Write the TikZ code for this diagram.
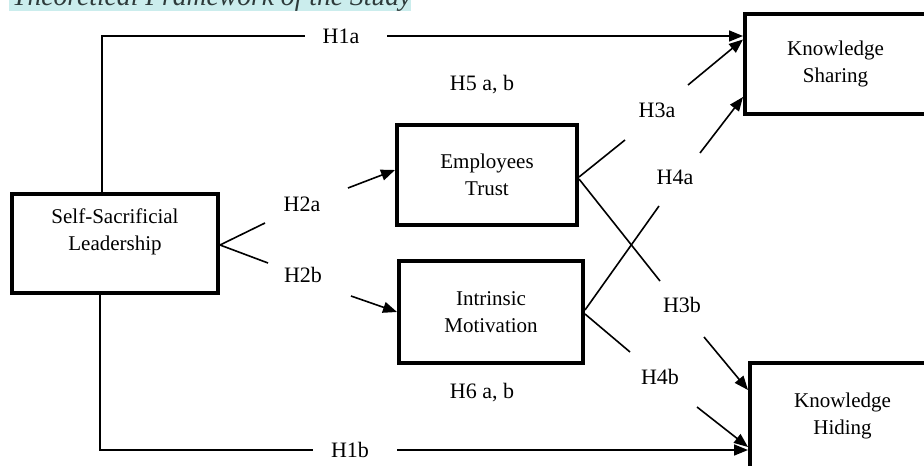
\documentclass[tikz,border=0pt]{standalone}
\usepackage{fontspec}
\setmainfont{Liberation Serif}
\usetikzlibrary{arrows.meta,calc}
\definecolor{hl}{HTML}{CBEDED}
\definecolor{titlec}{HTML}{2E3A3A}
\begin{document}
\begin{tikzpicture}[x=1pt,y=-1pt,
  box/.style={draw,line width=4pt,inner sep=0pt,align=center,font=\fontsize{21}{27}\selectfont},
  lab/.style={inner sep=0pt,font=\fontsize{22}{26}\selectfont},
  conn/.style={line width=1.6pt},
  arr/.style={conn,-{Triangle[length=14pt,width=11pt]}}]
\useasboundingbox (0,0) rectangle (924,466);
% title strip
\fill[hl] (9,-10) rectangle (411,11);
\node[anchor=base west,inner sep=0pt,font=\fontsize{27.6}{30}\selectfont\itshape,text=titlec] (title) at (12,5.5) {Theoretical Framework of the Study};
% boxes
\node[box,minimum width=206pt,minimum height=99pt] (SSL) at (115,243.5) {Self-Sacrificial\\Leadership\\\mbox{}};
\node[box,minimum width=180pt,minimum height=100pt] (ET) at (487,175) {Employees\\Trust};
\node[box,minimum width=184pt,minimum height=102pt] (IM) at (491,312) {Intrinsic\\Motivation};
\node[box,minimum width=181pt,minimum height=100pt] (KS) at (835.5,63.5) {Knowledge\\Sharing};
\node[box,minimum width=185pt,minimum height=105pt] (KH) at (842.5,415.5) {Knowledge\\Hiding};
% labels
\node[lab] (H1a) at (341,36) {H1a};
\node[lab] (H1b) at (350,450) {H1b};
\node[lab] (H2a) at (302,204) {H2a};
\node[lab] (H2b) at (303,275) {H2b};
\node[lab] (H3a) at (657,110) {H3a};
\node[lab] (H3b) at (682,305) {H3b};
\node[lab] (H4a) at (675,177) {H4a};
\node[lab] (H4b) at (660,377) {H4b};
\node[lab] (H5) at (482,85) {H5 a, b};
\node[lab] (H6) at (482,393) {H6 a, b};
% gap end coordinates
\coordinate (a1) at (305,36); \coordinate (a2) at (387,36);
\coordinate (b1) at (313,450); \coordinate (b2) at (397,450);
\coordinate (c1) at (265,223); \coordinate (c2) at (348,188);
\coordinate (d1) at (268,263); \coordinate (d2) at (351,296);
\coordinate (e1) at (625,140); \coordinate (e2) at (688,85);
\coordinate (f1) at (660,281); \coordinate (f2) at (704,337);
\coordinate (g1) at (659,206); \coordinate (g2) at (700,153);
\coordinate (k1) at (630,352); \coordinate (k2) at (697,407);
% connectors
\draw[conn] ([xshift=-13pt]SSL.north) |- (a1);
\draw[arr] (a2) -- (KS.west |- a2);
\draw[conn] ([xshift=-15pt]SSL.south) |- (b1);
\draw[arr] (b2) -- (KH.west |- b2);
\draw[conn] ([yshift=-1.5pt]SSL.east) -- (c1);
\draw[arr] (c2) -- ($(ET.west)+(0,-5)$);
\draw[conn] ([yshift=-1.5pt]SSL.east) -- (d1);
\draw[arr] (d2) -- (IM.west);
\draw[conn] ($(ET.east)+(0,2)$) -- (e1);
\draw[arr] (e2) -- ($(KS.west)+(0,-24)$);
\draw[conn] ($(ET.east)+(0,4)$) -- (f1);
\draw[arr] (f2) -- ($(KH.west)+(0,-25.5)$);
\draw[conn] ($(IM.east)+(0,-2)$) -- (g1);
\draw[arr] (g2) -- ($(KS.west)+(0,33.5)$);
\draw[conn] ($(IM.east)+(0,2)$) -- (k1);
\draw[arr] (k2) -- ($(KH.west)+(0,31.5)$);
\end{tikzpicture}
\end{document}
